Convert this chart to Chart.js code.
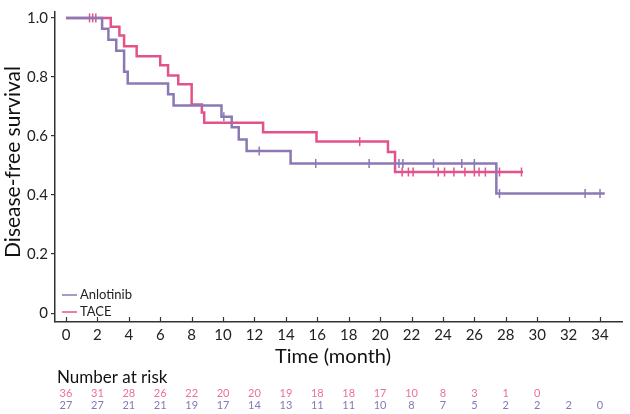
<!DOCTYPE html>
<html>
<head>
<meta charset="utf-8">
<script src="https://cdn.jsdelivr.net/npm/chart.js@4.4.0/dist/chart.umd.min.js"></script>
<style>
  html, body { margin: 0; padding: 0; background: #fff; }
  #wrap { width: 630px; height: 414px; }
</style>
</head>
<body>
<div id="wrap"><canvas id="km" width="630" height="414"></canvas></div>
<script>
const xTicks = [0, 2, 4, 6, 8, 10, 12, 14, 16, 18, 20, 22, 24, 26, 28, 30, 32, 34];
const yTicks = [0, 0.2, 0.4, 0.6, 0.8, 1.0];

// Anlotinib: event times and survival after each step
const anloTimes = [0, 2.3, 2.7, 3.2, 3.7, 3.93, 6.5, 6.85, 9.9, 10.55, 11.0, 11.5, 14.3, 27.4, 34.3];
const anloSurv = [1, 0.963, 0.926, 0.889, 0.818, 0.778, 0.741, 0.703, 0.665, 0.630, 0.588, 0.549, 0.507, 0.405, 0.405];
const anloCensor = [10.05, 12.3, 15.9, 19.3, 21.2, 21.45, 23.4, 25.2, 26.0, 27.6, 33.05, 34.0];

// TACE
const taceTimes = [0, 2.85, 3.4, 3.7, 4.5, 6.0, 6.5, 7.15, 8.0, 8.65, 8.8, 12.55, 15.95, 20.5, 20.95, 29.1];
const taceSurv = [1, 0.970, 0.940, 0.904, 0.870, 0.840, 0.805, 0.775, 0.707, 0.680, 0.645, 0.613, 0.581, 0.546, 0.478, 0.478];
const taceCensor = [1.5, 1.7, 1.9, 18.7, 21.4, 21.8, 22.1, 23.7, 24.1, 24.7, 25.4, 26.0, 26.3, 26.7, 27.6, 29.0];

// Number at risk, every 2 months
const taceRisk = [36, 31, 28, 26, 22, 20, 20, 19, 18, 18, 17, 10, 8, 3, 1, 0];
const anloRisk = [27, 27, 21, 21, 19, 17, 14, 13, 11, 11, 10, 8, 7, 5, 2, 2, 2, 0];

const PURPLE = '#8a79b5';
const PINK = '#e4528b';
const FONT = 'Lato, "Open Sans", sans-serif';

function survAt(times, surv, t) {
  let s = surv[0];
  for (let i = 0; i < times.length; i++) {
    if (times[i] <= t) s = surv[i];
  }
  return s;
}

const steps = (times, surv) => times.map((t, i) => ({ x: t, y: surv[i] }));
const marks = (cens, times, surv) => cens.map((t) => ({ x: t, y: survAt(times, surv, t) }));

const overlay = {
  id: 'overlay',
  afterDraw(chart) {
    const { ctx, chartArea, scales: { x } } = chart;
    ctx.save();

    // x ticks point inward
    ctx.strokeStyle = '#333';
    ctx.lineWidth = 1.2;
    xTicks.forEach((v) => {
      const px = Math.round(x.getPixelForValue(v)) + 0.5;
      ctx.beginPath();
      ctx.moveTo(px, chartArea.bottom);
      ctx.lineTo(px, chartArea.bottom - 5);
      ctx.stroke();
    });

    // legend
    ctx.font = '13px ' + FONT;
    ctx.textBaseline = 'middle';
    ctx.textAlign = 'left';
    [['Anlotinib', PURPLE, 295], ['TACE', PINK, 312]].forEach(([label, col, yy]) => {
      ctx.strokeStyle = col;
      ctx.lineWidth = 1.5;
      ctx.beginPath();
      ctx.moveTo(62, yy);
      ctx.lineTo(77, yy);
      ctx.stroke();
      ctx.fillStyle = '#222';
      ctx.fillText(label, 80, yy);
    });

    // y title
    ctx.save();
    ctx.translate(13, 162);
    ctx.rotate(-Math.PI / 2);
    ctx.textAlign = 'center';
    ctx.font = '21px ' + FONT;
    ctx.fillStyle = '#111';
    ctx.fillText('Disease-free survival', 0, 0);
    ctx.restore();

    // x title
    ctx.textAlign = 'center';
    ctx.font = '20px ' + FONT;
    ctx.fillStyle = '#111';
    ctx.fillText('Time (month)', x.getPixelForValue(17), 357);

    // risk table
    ctx.textAlign = 'left';
    ctx.font = '17px ' + FONT;
    ctx.fillText('Number at risk', 57, 378);
    ctx.textAlign = 'center';
    ctx.font = '11px ' + FONT;
    ctx.fillStyle = '#ee6f9a';
    taceRisk.forEach((n, i) => ctx.fillText(String(n), x.getPixelForValue(xTicks[i]), 393));
    ctx.fillStyle = '#8579b3';
    anloRisk.forEach((n, i) => ctx.fillText(String(n), x.getPixelForValue(xTicks[i]), 405));

    ctx.restore();
  },
};

new Chart(document.getElementById('km'), {
  type: 'line',
  data: {
    datasets: [
      {
        label: 'Anlotinib',
        data: steps(anloTimes, anloSurv),
        borderColor: PURPLE,
        borderWidth: 2.5,
        stepped: 'before',
        pointRadius: 0,
        fill: false,
        order: 0,
      },
      {
        type: 'scatter',
        label: 'Anlotinib censored',
        data: marks(anloCensor, anloTimes, anloSurv),
        borderColor: PURPLE,
        backgroundColor: PURPLE,
        pointStyle: 'line',
        rotation: 90,
        pointRadius: 4.5,
        borderWidth: 1.5,
        order: 0,
      },
      {
        label: 'TACE',
        data: steps(taceTimes, taceSurv),
        borderColor: PINK,
        borderWidth: 2.5,
        stepped: 'before',
        pointRadius: 0,
        fill: false,
        order: 1,
      },
      {
        type: 'scatter',
        label: 'TACE censored',
        data: marks(taceCensor, taceTimes, taceSurv),
        borderColor: PINK,
        backgroundColor: PINK,
        pointStyle: 'line',
        rotation: 90,
        pointRadius: 4.5,
        borderWidth: 1.5,
        order: 1,
      },
    ],
  },
  options: {
    responsive: false,
    animation: false,
    devicePixelRatio: 1,
    layout: { padding: { top: 4, right: 8, left: 0, bottom: 0 } },
    plugins: { legend: { display: false }, tooltip: { enabled: false } },
    scales: {
      x: {
        type: 'linear',
        min: -0.7,
        max: 35.4,
        afterBuildTicks: (s) => { s.ticks = xTicks.map((v) => ({ value: v })); },
        afterFit: (s) => { s.height = 92; },
        grid: { display: false },
        border: { display: true, color: '#333', width: 1.5 },
        ticks: { color: '#222', font: { family: FONT, size: 15 }, padding: -4, maxRotation: 0, autoSkip: false },
      },
      y: {
        min: -0.03,
        max: 1.02,
        afterBuildTicks: (s) => { s.ticks = yTicks.map((v) => ({ value: v })); },
        afterFit: (s) => { s.width = 55; },
        grid: { display: true, drawOnChartArea: false, drawTicks: true, tickLength: 4, color: '#333', lineWidth: 1.2 },
        border: { display: true, color: '#333', width: 1.5 },
        ticks: {
          color: '#222',
          font: { family: FONT, size: 15 },
          padding: 3,
          callback: (v) => (v === 0 ? '0' : v.toFixed(1)),
        },
      },
    },
  },
  plugins: [overlay],
});
</script>
</body>
</html>
